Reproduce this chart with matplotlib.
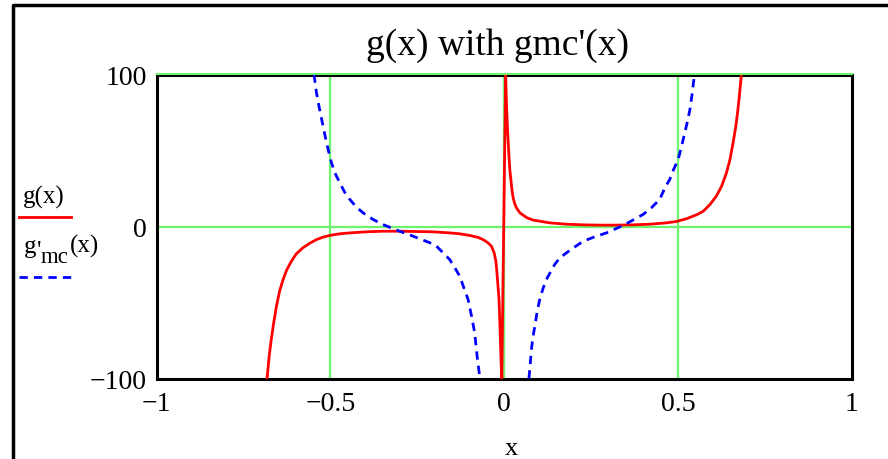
import numpy as np
import matplotlib
matplotlib.use('Agg')
import matplotlib.pyplot as plt
from matplotlib.lines import Line2D

plt.rcParams['font.family'] = ['Liberation Serif', 'DejaVu Serif']

# g(x) (left branch, then right branch; Mathcad joins them at x=0)
g_x_left = [-0.682, -0.676, -0.670, -0.663, -0.655, -0.646, -0.636, -0.625, -0.612,
            -0.598, -0.579, -0.559, -0.540, -0.521, -0.502, -0.473, -0.444, -0.396,
            -0.349, -0.301, -0.253, -0.205, -0.157, -0.128, -0.099, -0.075, -0.061,
            -0.047, -0.037, -0.029, -0.024, -0.021, -0.018, -0.015, -0.013, -0.011,
            -0.009, -0.007]
g_y_left = [-100, -85.3, -74.3, -63.4, -52.4, -42.5, -34.9, -28.3, -22.8,
            -18.0, -14.0, -11.0, -8.6, -7.0, -5.9, -4.8, -4.2, -3.5,
            -3.1, -3.1, -3.3, -3.5, -4.2, -4.8, -5.9, -7.2, -8.6,
            -10.7, -12.9, -17.3, -22.8, -30.5, -39.3, -48, -61, -74,
            -89.7, -100]
g_x_right = [0.004, 0.006, 0.009, 0.013, 0.016, 0.021, 0.025, 0.030, 0.035, 0.045, 0.064,
             0.083, 0.131, 0.179, 0.227, 0.275, 0.323, 0.370, 0.418, 0.466, 0.495,
             0.524, 0.553, 0.572, 0.591, 0.610, 0.625, 0.639, 0.649, 0.658, 0.666,
             0.672, 0.677, 0.682]
g_y_right = [100, 83.6, 66, 48.5, 37.5, 26.5, 19.5, 15.0, 12.3, 9.0, 5.9,
             4.2, 2.4, 1.5, 1.1, 0.9, 0.9, 1.1, 1.5, 2.4, 3.3,
             5.1, 7.7, 10, 14.3, 20, 26.5, 35.3, 44, 55, 66,
             77, 88, 100]

# g'mc(x), two separate branches
gmc_x_left = [-0.547, -0.540, -0.531, -0.521, -0.511, -0.497, -0.487, -0.473, -0.459,
              -0.444, -0.425, -0.406, -0.377, -0.349, -0.301, -0.272, -0.243, -0.214,
              -0.195, -0.176, -0.157, -0.142, -0.128, -0.116, -0.104, -0.094, -0.085,
              -0.078, -0.070]
gmc_y_left = [100, 88, 77, 66, 55, 42, 35.3, 28.8, 22.6,
              17.8, 12.7, 9, 4.6, 1.3, -3.1, -5.5, -8.1, -10.7,
              -12.9, -17.3, -21.7, -27.2, -32.7, -40.4, -48, -59, -70,
              -85.3, -100]
gmc_x_right = [0.071, 0.075, 0.078, 0.083, 0.088, 0.094, 0.102, 0.112, 0.121, 0.136,
               0.145, 0.160, 0.179, 0.203, 0.227, 0.260, 0.294, 0.342, 0.370, 0.399,
               0.423, 0.447, 0.462, 0.476, 0.487, 0.500, 0.510, 0.519, 0.527, 0.534,
               0.540, 0.547]
gmc_y_right = [-100, -89.7, -81, -72, -65.6, -56.8, -48, -40.4, -34.9, -28.7,
               -25, -20.6, -17.3, -13.4, -9.7, -6.8, -4.2, 0.7, 4.2, 7.9,
               12.3, 17.8, 25.4, 31, 37.5, 44, 52.8, 61.6, 69.3, 77,
               86.8, 100]

xticks = [-1, -0.5, 0, 0.5, 1]
xtick_labels = ['\u22121', '\u22120.5', '0', '0.5', '1']
yticks = [-100, 0, 100]
ytick_labels = ['\u2212100', '0', '100']

W, H = 888, 460
fig = plt.figure(figsize=(W / 100, H / 100), dpi=100)
ax = fig.add_axes([156.5 / W, 1 - 379.5 / H, 695.5 / W, 304 / H])

green = '#6cf56c'
for xv in [-0.5, 0, 0.5]:
    ax.axvline(xv, color=green, lw=1.6, zorder=1)
ax.axhline(0, color=green, lw=1.6, zorder=1)

ax.plot(g_x_left + g_x_right, g_y_left + g_y_right, color='red', lw=2.0, zorder=3)
ax.plot(gmc_x_left, gmc_y_left, color='blue', lw=2.0, dashes=(3, 2.2), zorder=3)
ax.plot(gmc_x_right, gmc_y_right, color='blue', lw=2.0, dashes=(3, 2.2), zorder=3)

ax.set_xlim(-1, 1)
ax.set_ylim(-100, 100)
ax.set_xticks(xticks)
ax.set_xticklabels(xtick_labels)
ax.set_yticks(yticks)
ax.set_yticklabels(ytick_labels)
ax.tick_params(length=0, labelsize=20)
ax.tick_params(axis='x', pad=9)
ax.tick_params(axis='y', pad=7)
for sp in ax.spines.values():
    sp.set_linewidth(2.2)
ax.set_xlabel('x', fontsize=19, labelpad=15)
ax.xaxis.label.set_x((511 - 156.5) / 695.5)

# green grid line at 100 shows just above the black frame
fig.add_artist(Line2D([156.5 / W, 852 / W], [1 - 74.5 / H] * 2, color=green, lw=1.5,
                      transform=fig.transFigure))

fig.text(497 / W, 1 - 46 / H, "g(x) with gmc'(x)", ha='center', va='center', fontsize=27)

# legend, drawn by hand like Mathcad's
def ftext(x, y, s, size=18):
    fig.text(x / W, 1 - y / H, s, fontsize=size, va='baseline', ha='left')

ftext(23, 204, 'g(x)')
fig.add_artist(Line2D([19 / W, 71 / W], [1 - 218 / H] * 2, color='red', lw=2.0,
                      transform=fig.transFigure))
ftext(24, 253, 'g')
ftext(36.5, 258, "'")
ftext(40.5, 263, 'mc', size=16.5)
ftext(69.5, 253, '(x)')
fig.add_artist(Line2D([19 / W, 71 / W], [1 - 278 / H] * 2, color='blue', lw=2.0,
                      dashes=(3, 2.2), transform=fig.transFigure))

# outer frame (cut off at right and bottom)
fig.add_artist(Line2D([13 / W, 13 / W, 1.0], [0.0, 1 - 6 / H, 1 - 6 / H],
                      color='black', lw=2.5, transform=fig.transFigure))

fig.savefig('out.png', dpi=100)
